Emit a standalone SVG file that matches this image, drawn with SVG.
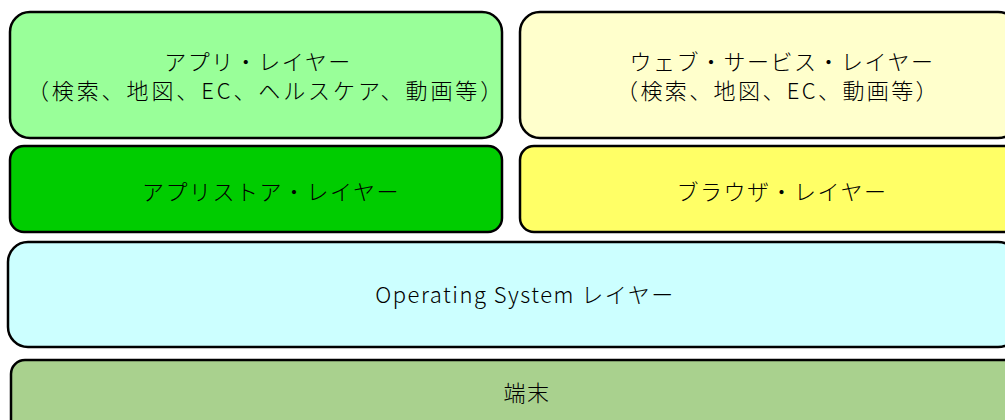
<svg xmlns="http://www.w3.org/2000/svg" width="1005" height="420" viewBox="0 0 1005 420">
<style>
.box{stroke:#000;stroke-width:2.5}
.t{font-family:"Noto Sans CJK JP","Noto Sans",sans-serif;font-size:22px;font-weight:300;fill:#000;text-anchor:middle;letter-spacing:1.5px}
</style>
<rect width="1005" height="420" fill="#fff"/>
<g id="app-layer">
<rect class="box" x="10" y="12" width="492" height="126" rx="20" fill="#99FF99"/>
<text class="t" x="258" y="70">アプリ・レイヤー</text>
<text class="t" x="266" y="99" style="letter-spacing:2.9px">（検索、地図、EC、ヘルスケア、動画等）</text>
</g>
<g id="appstore-layer">
<rect class="box" x="10" y="146" width="492" height="86" rx="14" fill="#00CC00"/>
<text class="t" x="271" y="200">アプリストア・レイヤー</text>
</g>
<g id="webservice-layer">
<rect class="box" x="520" y="12" width="498" height="126" rx="20" fill="#FFFFCC"/>
<text class="t" x="782" y="70">ウェブ・サービス・レイヤー</text>
<text class="t" x="778" y="99" style="letter-spacing:2.4px">（検索、地図、EC、動画等）</text>
</g>
<g id="browser-layer">
<rect class="box" x="520" y="146" width="498" height="86" rx="14" fill="#FFFF66"/>
<text class="t" x="782" y="200">ブラウザ・レイヤー</text>
</g>
<g id="os-layer">
<rect class="box" x="8" y="242" width="1010" height="105" rx="20" fill="#CCFFFF"/>
<text class="t" x="525" y="303">Operating System レイヤー</text>
</g>
<g id="device">
<rect class="box" x="11" y="360" width="1007" height="80" rx="14" fill="#A9D18E"/>
<text class="t" x="527" y="401">端末</text>
</g>
<g id="connectors"></g>
</svg>
